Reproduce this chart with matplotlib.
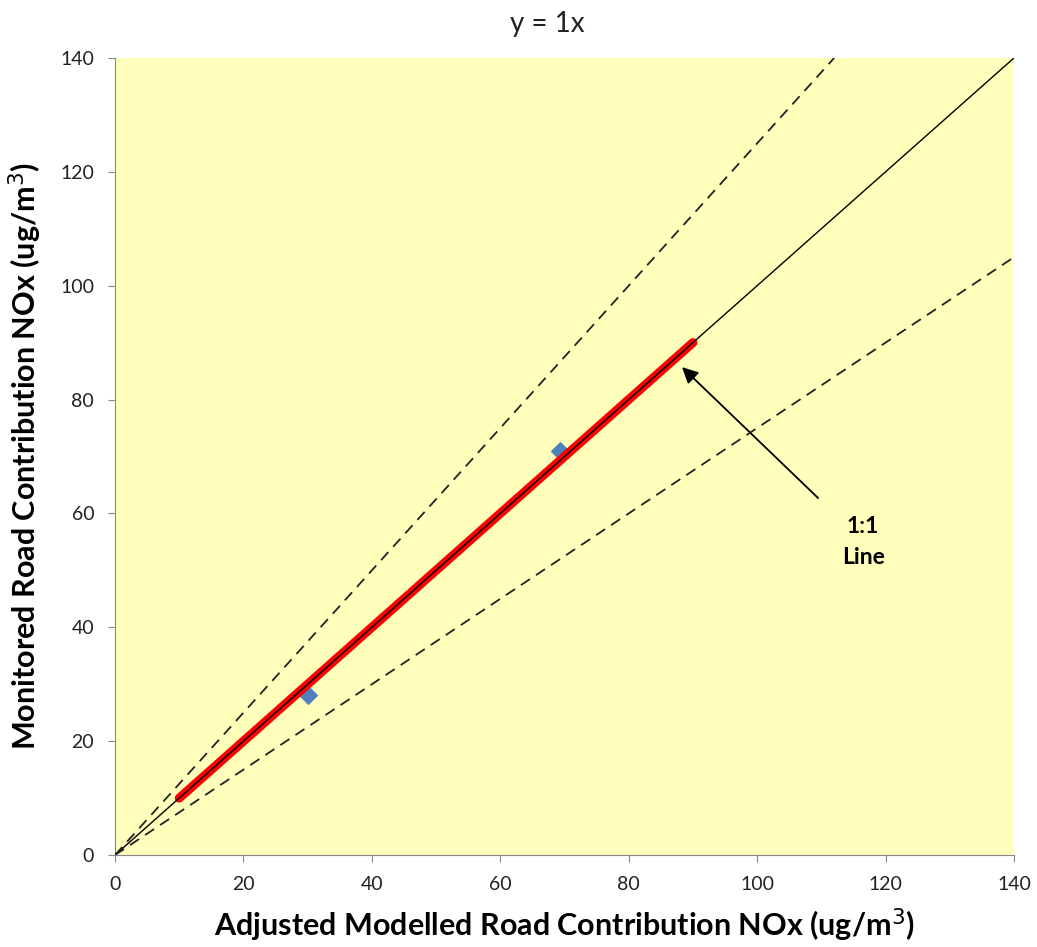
import matplotlib
matplotlib.use("Agg")
import matplotlib.pyplot as plt
import numpy as np

plt.rcParams['font.family'] = ['Lato', 'DejaVu Sans']

# Data
modelled = [30.0, 69.3]
monitored = [28.1, 71.0]
trend_x = [10, 90]
trend_y = [10, 90]
one_to_one_x = [0, 140]
upper_x = [0, 112]   # y = 1.25x
lower_x = [0, 140]   # y = 0.75x
upper_slope = 1.25
lower_slope = 0.75
ticks = [0, 20, 40, 60, 80, 100, 120, 140]

fig = plt.figure(figsize=(10.37, 9.47), dpi=100)
ax = fig.add_axes([0.1109, 0.0971, 0.9778 - 0.1109, 0.9388 - 0.0971])
ax.set_facecolor('#FFFFBB')

ax.scatter(modelled, monitored, marker='D', s=80, color='#4F81BD', zorder=2)
ax.plot(trend_x, trend_y, color='#FF0000', lw=6.5, solid_capstyle='round', zorder=3)
ax.plot(one_to_one_x, one_to_one_x, color='black', lw=1, zorder=4)
ax.plot(upper_x, [v * upper_slope for v in upper_x], color='#222222', lw=1.3,
        dashes=(6, 4), zorder=4)
ax.plot(lower_x, [v * lower_slope for v in lower_x], color='#222222', lw=1.3,
        dashes=(6, 4), zorder=4)

ax.annotate('', xy=(88.3, 85.7), xytext=(109.5, 62.7),
            arrowprops=dict(arrowstyle='-|>', color='black', lw=1.3,
                            mutation_scale=24, shrinkA=0, shrinkB=0))
ax.text(116.5, 55.0, '1:1\nLine', ha='center', va='center', fontsize=16.5,
        fontweight='bold', linespacing=1.55)

ax.set_xlim(0, 140)
ax.set_ylim(0, 140)
ax.set_xticks(ticks)
ax.set_yticks(ticks)
ax.tick_params(direction='out', length=5, color='#888888', labelsize=14,
               labelcolor='#222222', pad=10)
for s in ['top', 'right']:
    ax.spines[s].set_visible(False)
for s in ['left', 'bottom']:
    ax.spines[s].set_color('#888888')

ax.set_xlabel('Adjusted Modelled Road Contribution NOx (ug/m$^3$)',
              fontsize=22, fontweight='bold', labelpad=10)
ax.set_ylabel('Monitored Road Contribution NOx (ug/m$^3$)',
              fontsize=22, fontweight='bold', labelpad=12)
fig.text(547 / 1037, 1 - 24 / 947, 'y = 1x', ha='center', va='center',
         fontsize=20, color='#222222')

fig.savefig('out.png', dpi=100, facecolor='white')
